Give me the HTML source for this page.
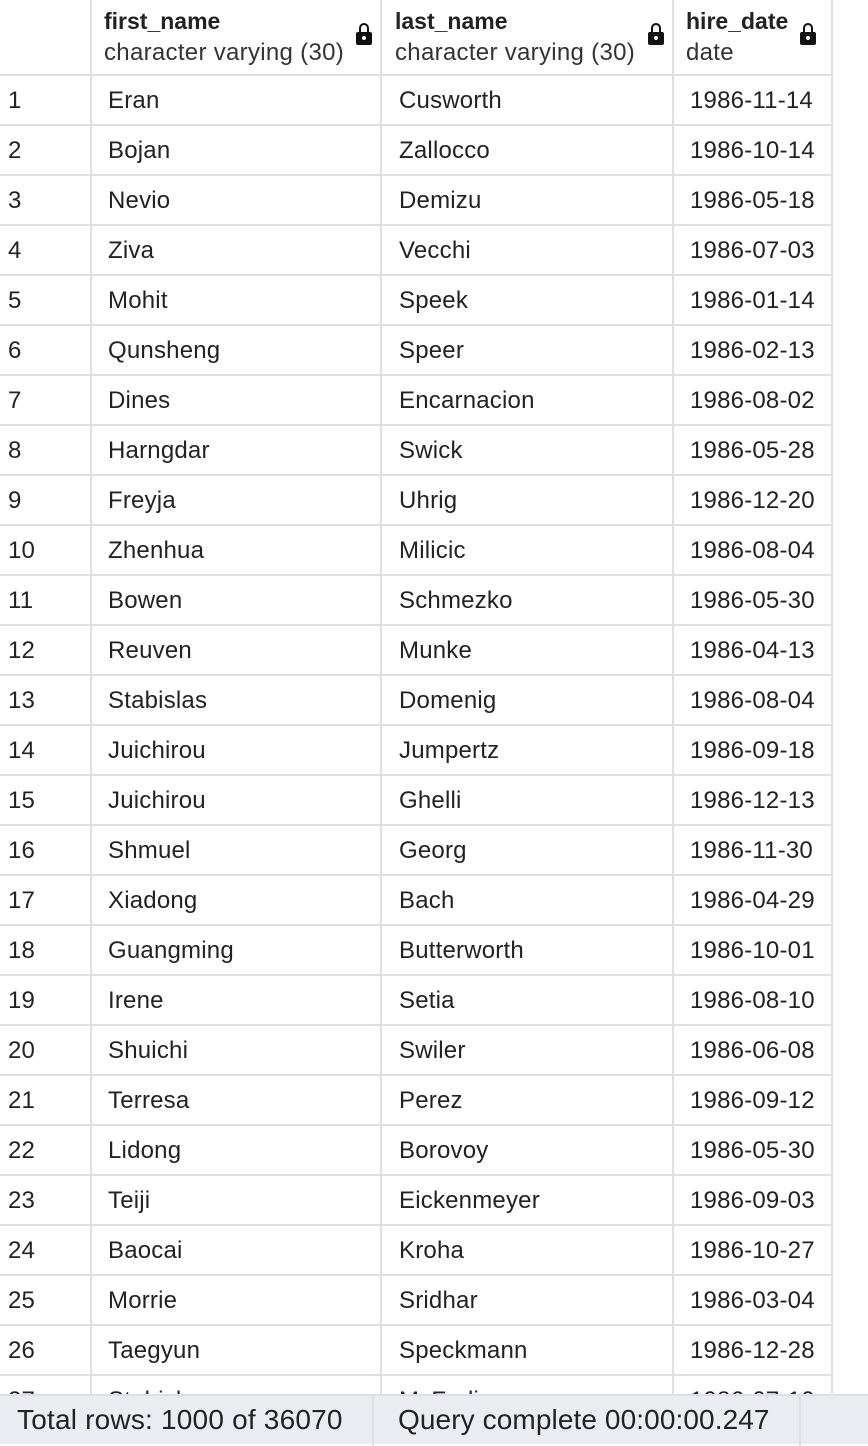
<!DOCTYPE html>
<html><head><meta charset="utf-8"><style>
body{margin:0;width:868px;height:1444px;overflow:hidden;background:#fff;font-family:"Liberation Sans",sans-serif;color:#222;position:relative}
.c{position:absolute;font-size:24px;line-height:24px;white-space:nowrap;letter-spacing:0.2px}
.vl{position:absolute;top:0;width:2px;background:#dcdfe5;height:1394px}
.hl{position:absolute;left:0;width:833px;height:2px;background:#dcdfe5}
.h1{font-weight:bold;font-size:23px;letter-spacing:0}
.h2{font-size:24px;color:#333;letter-spacing:0.3px}
.lock{position:absolute;width:16px;height:13px;background:#111;border-radius:2px}
.lock:before{content:"";position:absolute;left:3px;top:-9px;width:6px;height:9px;border:2px solid #111;border-bottom:none;border-radius:6px 6px 0 0}
.lock:after{content:"";position:absolute;left:6px;top:4px;width:4px;height:4px;background:#fff;border-radius:50%}
#footer{position:absolute;left:0;top:1394px;width:868px;height:50px;background:#ebecf1;border-top:2px solid #dcdfe5;box-sizing:border-box}
</style></head><body>
<div id="tbl"></div>
<div class="c h1" style="left:104px;top:9px">first_name</div>
<div class="c h2" style="left:104px;top:41px">character varying (30)</div>
<div class="lock" style="left:356px;top:32px"></div>
<div class="c h1" style="left:395px;top:9px">last_name</div>
<div class="c h2" style="left:395px;top:41px">character varying (30)</div>
<div class="lock" style="left:648px;top:32px"></div>
<div class="c h1" style="left:686px;top:9px">hire_date</div>
<div class="c h2" style="left:686px;top:41px">date</div>
<div class="lock" style="left:800px;top:32px"></div>
<div id="footer">
<div class="c" style="left:17px;top:10px;font-size:28px;line-height:28px;letter-spacing:0.2px">Total rows: 1000 of 36070</div>
<div style="position:absolute;left:372px;top:0;width:2px;height:50px;background:#dcdfe5"></div>
<div class="c" style="left:398px;top:10px;font-size:28px;line-height:28px;letter-spacing:0.1px">Query complete 00:00:00.247</div>
<div style="position:absolute;left:799px;top:0;width:2px;height:50px;background:#dcdfe5"></div>
</div>
<script>
const firstNames=["Eran","Bojan","Nevio","Ziva","Mohit","Qunsheng","Dines","Harngdar","Freyja","Zhenhua","Bowen","Reuven","Stabislas","Juichirou","Juichirou","Shmuel","Xiadong","Guangming","Irene","Shuichi","Terresa","Lidong","Teiji","Baocai","Morrie","Taegyun","Stabisl"];
const lastNames=["Cusworth","Zallocco","Demizu","Vecchi","Speek","Speer","Encarnacion","Swick","Uhrig","Milicic","Schmezko","Munke","Domenig","Jumpertz","Ghelli","Georg","Bach","Butterworth","Setia","Swiler","Perez","Borovoy","Eickenmeyer","Kroha","Sridhar","Speckmann","McFarlin"];
const hireDates=["1986-11-14","1986-10-14","1986-05-18","1986-07-03","1986-01-14","1986-02-13","1986-08-02","1986-05-28","1986-12-20","1986-08-04","1986-05-30","1986-04-13","1986-08-04","1986-09-18","1986-12-13","1986-11-30","1986-04-29","1986-10-01","1986-08-10","1986-06-08","1986-09-12","1986-05-30","1986-09-03","1986-10-27","1986-03-04","1986-12-28","1986-07-10"];
const t=document.getElementById('tbl');
[90,380,672,831].forEach(x=>{const v=document.createElement('div');v.className='vl';v.style.left=x+'px';


t.appendChild(v);});
for(let i=0;i<firstNames.length;i++){
 const top=75+50*i;
 const l=document.createElement('div');l.className='hl';l.style.top=(top-1)+'px';
 
 
 t.appendChild(l);
 const vals=[String(i+1),firstNames[i],lastNames[i],hireDates[i]];
 const xs=[8,108,399,690];
 const names=['row-number','first-name-cell','last-name-cell','hire-date-cell'];
 vals.forEach((v,j)=>{const d=document.createElement('div');d.className='c';d.style.left=xs[j]+'px';d.style.top=(top+14)+'px';d.textContent=v;
 
 
 t.appendChild(d);});
}
</script>
</body></html>
